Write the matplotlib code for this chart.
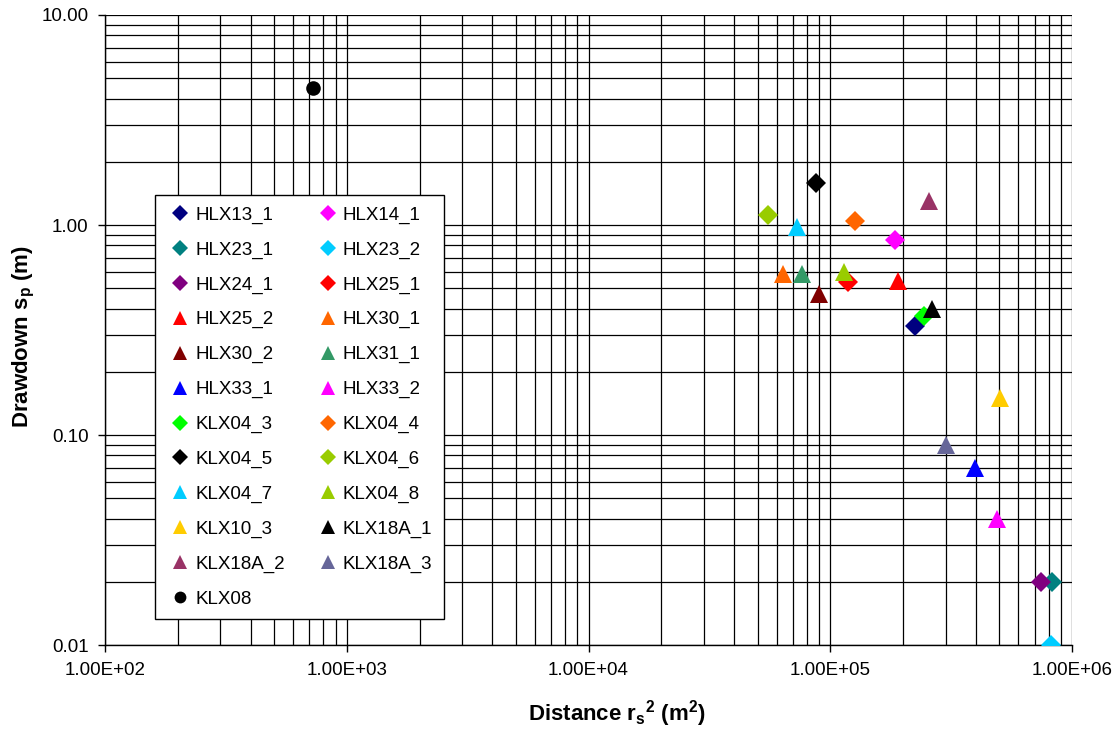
import matplotlib.pyplot as plt
from matplotlib.ticker import FixedLocator, LogLocator, NullFormatter

plt.rcParams['font.family'] = ['Liberation Sans', 'DejaVu Sans']
plt.rcParams['mathtext.fontset'] = 'custom'
plt.rcParams['mathtext.rm'] = 'Liberation Sans'
plt.rcParams['mathtext.bf'] = 'Liberation Sans:bold'

# data
names = ['HLX13_1', 'HLX14_1', 'HLX23_1', 'HLX23_2', 'HLX24_1', 'HLX25_1',
         'HLX25_2', 'HLX30_1', 'HLX30_2', 'HLX31_1', 'HLX33_1', 'HLX33_2',
         'KLX04_3', 'KLX04_4', 'KLX04_5', 'KLX04_6', 'KLX04_7', 'KLX04_8',
         'KLX10_3', 'KLX18A_1', 'KLX18A_2', 'KLX18A_3', 'KLX08']
dist = [223000, 185000, 826000, 820000, 746000, 118000,
        191000, 63800, 89500, 76400, 397000, 491000,
        245000, 126500, 87300, 55200, 72800, 113800,
        504000, 264000, 256000, 301000, 725]
drawdown = [0.33, 0.85, 0.02, 0.01, 0.02, 0.535,
            0.54, 0.585, 0.47, 0.585, 0.07, 0.04,
            0.37, 1.04, 1.58, 1.11, 0.98, 0.60,
            0.15, 0.40, 1.30, 0.09, 4.5]
markers = ['D', 'D', 'D', 'D', 'D', 'D',
           '^', '^', '^', '^', '^', '^',
           'D', 'D', 'D', 'D', '^', '^',
           '^', '^', '^', '^', 'o']
colors = ['#000080', '#FF00FF', '#008080', '#00CCFF', '#800080', '#FF0000',
          '#FF0000', '#FF6600', '#800000', '#339966', '#0000FF', '#FF00FF',
          '#00FF00', '#FF6600', '#000000', '#99CC00', '#00CCFF', '#99CC00',
          '#FFCC00', '#000000', '#993366', '#666699', '#000000']

# marker sizes (points) per marker type
msize = {'D': 10, '^': 12.5, 'o': 10.5}
lsize = {'D': 7.8, '^': 9.5, 'o': 8.5}

fig = plt.figure(figsize=(11.2, 7.31), dpi=100)
ax = fig.add_axes([0.0938, 0.1176, 0.8634, 0.8619])

handles = []
for x, y, m, c, n in zip(dist, drawdown, markers, colors, names):
    h, = ax.plot([x], [y], linestyle='none', marker=m, color=c,
                 markersize=msize[m], markeredgewidth=0, label=n, zorder=3)
    handles.append(h)

ax.set_xscale('log')
ax.set_yscale('log')
ax.set_xlim(1e2, 1e6)
ax.set_ylim(0.01, 10)

ax.xaxis.set_major_locator(FixedLocator([1e2, 1e3, 1e4, 1e5, 1e6]))
ax.set_xticklabels(['1.00E+02', '1.00E+03', '1.00E+04', '1.00E+05', '1.00E+06'])
ax.yaxis.set_major_locator(FixedLocator([0.01, 0.1, 1, 10]))
ax.set_yticklabels(['0.01', '0.10', '1.00', '10.00'])
ax.xaxis.set_minor_locator(LogLocator(base=10, subs=range(2, 10)))
ax.yaxis.set_minor_locator(LogLocator(base=10, subs=range(2, 10)))
ax.xaxis.set_minor_formatter(NullFormatter())
ax.yaxis.set_minor_formatter(NullFormatter())
ax.tick_params(which='major', labelsize=13.5, length=5, width=1, direction='out', pad=7)
ax.tick_params(which='minor', length=0)

ax.grid(True, which='both', color='black', linewidth=0.9)
ax.set_axisbelow(True)
for s in ['top', 'right']:
    ax.spines[s].set_visible(False)
for s in ['bottom', 'left']:
    ax.spines[s].set_color('black')
    ax.spines[s].set_linewidth(1)

ax.set_xlabel(r'Distance r$_\mathbf{s}$$^\mathbf{2}$ (m$^\mathbf{2}$)',
              fontsize=16, fontweight='bold')
ax.xaxis.set_label_coords(0.529, -0.085)
ax.set_ylabel(r'Drawdown s$_\mathbf{p}$ (m)', fontsize=16, fontweight='bold')
ax.yaxis.set_label_coords(-0.07, 0.49)

# legend filled row by row, like the reference
order = list(range(0, len(handles), 2)) + list(range(1, len(handles), 2))
leg = ax.legend([handles[i] for i in order], [names[i] for i in order],
                ncol=2, loc='lower left', bbox_to_anchor=(0.0517, 0.0413),
                fontsize=13.5, frameon=True, fancybox=False, framealpha=1,
                edgecolor='black', borderpad=0.6, labelspacing=0.94,
                handletextpad=0.05, handlelength=1.5, columnspacing=1.54,
                borderaxespad=0)
leg.get_frame().set_linewidth(1)
for h in leg.legend_handles:
    h.set_markersize(lsize[h.get_marker()])

fig.savefig('out.png', dpi=100)
